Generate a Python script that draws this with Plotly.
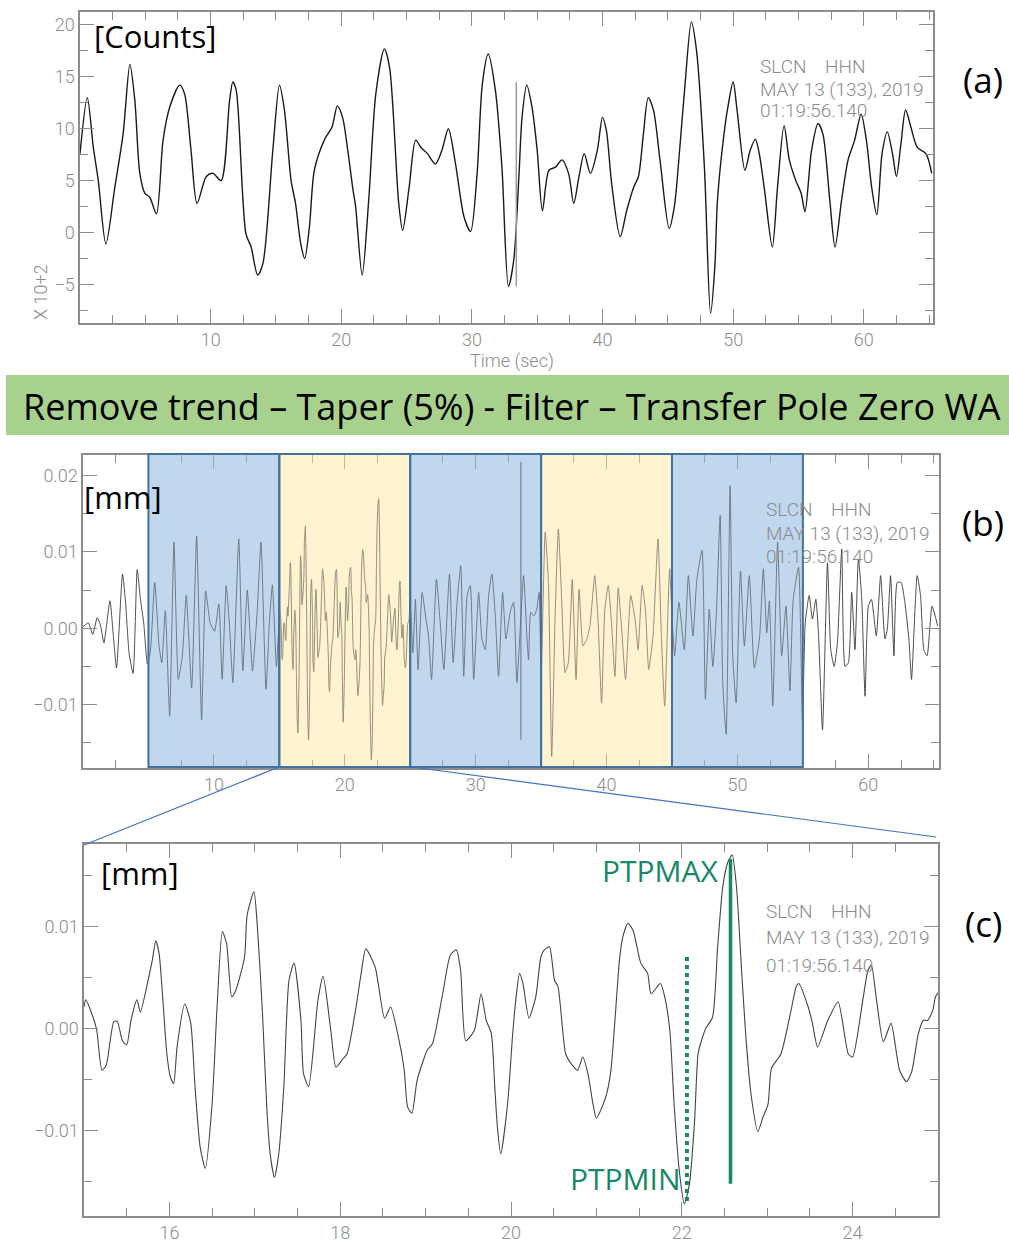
import plotly.graph_objects as go

# ---------------- data ----------------
# Panel (a): raw counts (x 10^2) vs time (s)
a_time = [0.0, 0.56, 1.02, 1.4, 1.98, 2.67, 3.3, 3.82, 4.2, 4.58, 4.96, 5.34, 5.85, 6.36, 6.87, 7.63, 8.0, 8.5,
          8.96, 9.67, 10.18, 10.8, 11.45, 11.7, 11.96, 12.7, 13.1, 13.6, 14.0, 14.76, 15.27, 15.65, 16.16, 16.5,
          16.9, 17.2, 17.56, 17.94, 18.7, 19.3, 19.7, 20.1, 20.5, 20.9, 21.1, 21.6, 22.1, 22.65, 23.3, 23.7, 24.4,
          24.7, 25.2, 25.7, 26.1, 26.6, 27.2, 27.7, 28.2, 28.75, 29.4, 29.9, 30.4, 30.8, 31.25, 31.8, 32.3, 32.8,
          33.2, 33.6, 33.84, 34.2, 34.6, 35.0, 35.4, 35.9, 36.4, 36.9, 37.4, 37.8, 38.2, 38.6, 39.07, 39.6, 40.0,
          40.3, 40.7, 41.35, 41.85, 42.4, 42.75, 43.13, 43.5, 43.9, 44.4, 45.1, 45.5, 45.9, 46.3, 46.8, 47.2, 47.8,
          48.27, 48.6, 48.8, 49.3, 49.6, 50.0, 50.3, 50.9, 51.3, 51.7, 52.0, 52.4, 53.0, 53.4, 53.9, 54.3, 54.8,
          55.2, 55.5, 56.0, 56.5, 56.87, 57.4, 57.8, 58.3, 58.8, 59.3, 59.8, 60.2, 60.6, 61.0, 61.4, 61.8, 62.2,
          62.5, 62.85, 63.2, 63.6, 64.1, 64.76, 65.2]
a_counts = [7.6, 13.0, 8.2, 5.0, -1.1, 4.4, 9.5, 16.2, 12.7, 5.7, 3.8, 3.4, 1.8, 8.9, 12.1, 14.2, 13.4, 7.9,
            2.8, 5.4, 5.7, 5.0, 12.7, 14.5, 13.7, -0.1, -1.4, -4.1, -3.0, 7.9, 14.2, 11.8, 5.0, 2.8,
            -1.1, -2.5, 0.5, 6.0, 8.9, 10.2, 12.2, 11.1, 7.9, 4.1, 2.5, -4.1, 3.1, 13.4, 17.7, 15.9, 2.8,
            0.2, 4.4, 8.9, 8.2, 7.6, 6.6, 7.9, 10.0, 6.6, 1.5, 0.1, 5.7, 14.3, 17.2, 13.7, 6.3, -5.2,
            -2.7, 5.4, 11.1, 14.2, 12.1, 7.9, 2.1, 6.0, 6.3, 7.0, 5.7, 2.8, 5.4, 7.6, 5.7, 7.9, 11.1,
            9.8, 4.7, -0.4, 2.1, 4.4, 5.4, 9.5, 13.0, 11.8, 7.0, 0.4, 2.5, 7.9, 14.0, 20.3, 17.5, 6.3,
            -7.8, -3.3, 3.1, 9.5, 12.1, 14.5, 11.8, 6.0, 7.9, 9.0, 7.6, 4.1, -1.4, 4.4, 10.3, 7.0, 5.0,
            3.8, 2.0, 7.9, 10.5, 9.5, 3.1, -1.4, 3.1, 7.0, 8.9, 11.4, 8.9, 4.4, 1.7, 7.6, 9.7, 7.6,
            5.4, 8.6, 11.8, 10.2, 8.2, 7.6, 5.7]
a_pick_time = [33.4, 33.4]
a_pick_counts = [14.5, -5.2]
a_xticks = [10, 20, 30, 40, 50, 60]

# Panel (c): Wood-Anderson displacement (mm), 15-25 s window
c_time = [15.0, 15.02, 15.11, 15.15, 15.21, 15.26, 15.35, 15.39, 15.45, 15.50, 15.55, 15.62, 15.66, 15.76,
          15.80, 15.84, 15.88, 15.97, 16.01, 16.05, 16.09, 16.18, 16.25, 16.30, 16.36, 16.42, 16.50, 16.56,
          16.62, 16.67, 16.73, 16.78, 16.88, 16.91, 16.99, 17.03, 17.09, 17.14, 17.18, 17.23, 17.28, 17.34,
          17.40, 17.46, 17.54, 17.57, 17.63, 17.74, 17.80, 17.89, 17.95, 18.02, 18.08, 18.18, 18.24, 18.30,
          18.41, 18.52, 18.59, 18.69, 18.75, 18.79, 18.84, 18.90, 19.02, 19.08, 19.20, 19.29, 19.36, 19.41,
          19.47, 19.57, 19.65, 19.71, 19.77, 19.81, 19.84, 19.88, 19.96, 20.02, 20.06, 20.10, 20.14, 20.21,
          20.29, 20.35, 20.39, 20.45, 20.51, 20.55, 20.64, 20.70, 20.78, 20.84, 20.90, 20.96, 21.00, 21.11,
          21.17, 21.27, 21.31, 21.37, 21.43, 21.52, 21.60, 21.64, 21.75, 21.80, 21.86, 21.91, 21.97, 22.03,
          22.09, 22.15, 22.19, 22.23, 22.28, 22.36, 22.42, 22.48, 22.54, 22.59, 22.64, 22.70, 22.75, 22.81,
          22.89, 22.95, 23.01, 23.05, 23.16, 23.28, 23.34, 23.37, 23.48, 23.53, 23.59, 23.71, 23.83, 23.95,
          24.00, 24.12, 24.18, 24.22, 24.28, 24.36, 24.45, 24.55, 24.63, 24.69, 24.77, 24.83, 24.88, 24.94,
          24.97, 25.0]
c_disp = [0.0021, 0.0028, 0.0010, -0.0002, -0.0041, -0.0036, 0.0007, 0.0007, -0.0012, -0.0016, 0.0008, 0.0028,
          0.0016, 0.0051, 0.0067, 0.0086, 0.0073, -0.0025, -0.0047, -0.0054, -0.0018, 0.0024, 0.0005, -0.0057,
          -0.0116, -0.0137, -0.0074, 0.0024, 0.0095, 0.0083, 0.0031, 0.0038, 0.0070, 0.0111, 0.0134, 0.0100,
          0.0015, -0.0077, -0.0123, -0.0146, -0.0123, -0.0057, 0.0047, 0.0064, 0.0008, -0.0044, -0.0057,
          0.0028, 0.0051, -0.0002, -0.0038, -0.0031, -0.0025, 0.0018, 0.0051, 0.0078, 0.0060, 0.0010, 0.0021,
          -0.0012, -0.0041, -0.0077, -0.0083, -0.0051, -0.0021, -0.0015, 0.0034, 0.0072, 0.0077, 0.0057,
          -0.0012, -0.0002, 0.0034, 0.0008, -0.0005, -0.0057, -0.0096, -0.0123, -0.0074, -0.0005, 0.0031,
          0.0054, 0.0044, 0.0010, 0.0031, 0.0070, 0.0077, 0.0080, 0.0047, 0.0041, -0.0025, -0.0034, -0.0041,
          -0.0028, -0.0044, -0.0074, -0.0088, -0.0067, -0.0041, 0.0067, 0.0090, 0.0103, 0.0096, 0.0064, 0.0054,
          0.0034, 0.0044, 0.0031, -0.0002, -0.0074, -0.0139, -0.0172, -0.0152, -0.0090, -0.0025, -0.0012,
          0.0000, 0.0011, 0.0080, 0.0139, 0.0163, 0.0170, 0.0139, 0.0057, -0.0008, -0.0064, -0.0101, -0.0087,
          -0.0074, -0.0039, -0.0025, 0.0018, 0.0041, 0.0044, 0.0021, 0.0005, -0.0018, 0.0008, 0.0026, -0.0025,
          -0.0028, 0.0028, 0.0057, 0.0062, 0.0028, -0.0013, 0.0005, -0.0041, -0.0052, -0.0043, -0.0005, 0.0008,
          0.0008, 0.0018, 0.0031, 0.0035]

# Panel (b): full WA trace outside the 15-25 s window (inside it, the panel (c) samples are used)
b_pre_time = [0.0, 0.41, 0.74, 1.09, 1.35, 1.60, 2.06, 2.31, 2.56, 3.02, 3.25, 3.53, 3.83, 4.14, 4.39, 4.64,
              4.92, 5.15, 5.48, 5.81, 6.02, 6.29, 6.62, 6.95, 7.28, 7.59, 7.89, 8.30, 8.68, 9.06, 9.37, 9.72,
              10.05, 10.38, 10.63, 10.94, 11.19, 11.45, 11.90, 12.21, 12.55, 12.95, 13.3, 13.60, 13.98, 14.25,
              14.47, 14.78]
b_pre_disp = [0.0002, 0.0007, -0.0008, 0.0014, 0.0003, -0.0019, 0.0036, -0.0008, -0.0052, 0.0071, 0.0034,
              -0.0034, -0.0059, 0.0077, 0.0038, 0.0007, -0.0047, -0.0030, 0.0060, -0.0023, -0.0045, 0.0023,
              -0.0115, 0.0113, -0.0067, -0.0036, 0.0043, -0.0078, 0.0121, -0.0120, 0.0049, 0.0007, -0.0004,
              0.0032, -0.0067, 0.0056, 0.0005, -0.0071, 0.0117, -0.0056, 0.0050, -0.0056, 0.0020, 0.0113,
              -0.0080, 0.0010, 0.0057, -0.0050]
b_post_time = [25.2, 25.4, 25.6, 25.91, 26.17, 26.4, 26.63, 27.0, 27.31, 27.57, 28.0, 28.28, 28.58, 28.86,
               29.09, 29.35, 29.59, 29.85, 30.23, 30.48, 30.73, 30.99, 31.24, 31.5, 31.75, 32.06, 32.31, 32.64,
               32.9, 33.15, 33.66, 33.91, 34.04, 34.21, 34.45, 34.67, 34.85, 35.0, 35.31, 35.56,
               35.81, 36.07, 36.32, 36.57, 36.83, 37.08, 37.38, 37.67, 37.9, 38.2, 38.5, 38.73, 39.1, 39.36,
               39.62, 39.87, 40.13, 40.38, 40.64, 40.89, 41.14, 41.45, 41.85, 42.21, 42.41, 42.72, 42.97, 43.22,
               43.55, 43.93, 44.19, 44.44, 44.82, 45.0, 45.2, 45.53, 45.94, 46.25, 46.6, 46.9, 47.3, 47.55,
               47.85, 48.12, 48.38, 48.68, 48.88, 49.14, 49.44, 49.64, 49.9, 50.23, 50.53, 50.91, 51.29, 51.68,
               51.98, 52.24, 52.44, 52.7, 53.07, 53.38, 53.71, 54.01, 54.26, 54.67, 54.97, 55.18, 55.48, 55.73,
               55.99, 56.2, 56.5, 56.88, 57.13, 57.39, 57.64, 57.97, 58.22, 58.48, 58.73, 58.98, 59.24, 59.5,
               59.75, 60.0, 60.24, 60.61, 60.94, 61.27, 61.45, 61.7, 61.96, 62.21, 62.51, 62.79, 63.1, 63.3,
               63.73, 63.99, 64.24, 64.49, 64.87, 65.3]
b_post_disp = [-0.0032, 0.0038, -0.0054, 0.0047, 0.0016, -0.0010, -0.0067, 0.0064, 0.0003, -0.0054, 0.0071,
               -0.0045, 0.0034, 0.0082, -0.0063, 0.0043, 0.0056, -0.0067, 0.0047, -0.0014, -0.0028, 0.0043,
               0.0071, 0.0016, -0.0063, 0.0047, -0.0014, 0.0021, 0.0034, -0.0071, 0.0069,
               -0.0010, -0.0041, 0.0021, 0.0016, 0.0025, 0.0047, -0.0067, 0.0126, 0.0060, -0.0168, 0.0016,
               0.0130, 0.0038, -0.0058, -0.0045, 0.0064, -0.0067, 0.0051, -0.0023, -0.0014, 0.0003, 0.0069,
               0.0007, -0.0098, 0.0025, 0.0056, 0.0007, -0.0063, 0.0053, 0.0003, -0.0067, 0.0043, 0.0007,
               -0.0028, 0.0056, 0.0025, -0.0054, -0.0010, 0.0117, -0.0010, -0.0102, 0.0078, 0.0016, -0.0036,
               0.0034, -0.0028, 0.0069, -0.0010, 0.0064, 0.0102, -0.0093, 0.0025, -0.0050, 0.0016, 0.0148,
               -0.0071, -0.0139, 0.0187, -0.0036, -0.0098, 0.0075, -0.0023, 0.0069, -0.0052, -0.0014, 0.0078,
               -0.0006, 0.0036, -0.0102, 0.0113, -0.0036, 0.0029, -0.0082, 0.0038, 0.0080, -0.0124, 0.0007,
               0.0043, 0.0012, 0.0038, -0.0010, -0.0133, 0.0086, -0.0028, -0.0050, -0.0019, 0.0104, -0.0050,
               -0.0045, 0.0047, -0.0028, 0.0091, 0.0038, -0.0089, 0.0029, 0.0038, -0.0010, 0.0069, -0.0014,
               -0.0001, 0.0069, -0.0036, 0.0060, 0.0060, 0.0034, -0.0014, -0.0067, 0.0069, 0.0043, -0.0028,
               -0.0036, 0.0029, 0.0003]
b_spike_time = [33.46, 33.46]
b_spike_disp = [0.0218, -0.0146]
b_xticks = [10, 20, 30, 40, 50, 60]

# Analysis windows in panel (b)
win_start = [5, 15, 25, 35, 45]
win_end = [15, 25, 35, 45, 55]
win_kind = ["blue", "yellow", "blue", "yellow", "blue"]

# Peak-to-peak markers in panel (c)
ptpmin_time = [22.06, 22.06]
ptpmin_disp = [0.0070, -0.0173]
ptpmax_time = [22.57, 22.57]
ptpmax_disp = [0.0166, -0.0152]

header_lines = ["SLCN&nbsp;&nbsp;&nbsp;&nbsp;HHN", "MAY 13 (133), 2019", "01:19:56.140"]

# ---------------- figure ----------------
W, H = 1009, 1243
def PX(x):
    return x / W
def PY(y):
    return 1 - y / H

GRAY = "#8c8c8c"
NARROW = "Roboto, Liberation Sans, sans-serif"
SANS = "Open Sans, Noto Sans, sans-serif"
GREEN = "#17876a"

b_time = b_pre_time + c_time + b_post_time
b_disp = b_pre_disp + c_disp + b_post_disp

fig = go.Figure()
fig.add_trace(go.Scatter(x=a_time, y=a_counts, mode="lines", xaxis="x", yaxis="y",
                         line=dict(color="#1a1a1a", width=1.4, shape="spline", smoothing=0.8)))
fig.add_trace(go.Scatter(x=a_pick_time, y=a_pick_counts, mode="lines", xaxis="x", yaxis="y",
                         line=dict(color="#9a9a9a", width=1.5)))
fig.add_trace(go.Scatter(x=b_time, y=b_disp, mode="lines", xaxis="x2", yaxis="y2",
                         line=dict(color="#3a3a3a", width=0.9, shape="spline", smoothing=0.5)))
fig.add_trace(go.Scatter(x=b_spike_time, y=b_spike_disp, mode="lines", xaxis="x2", yaxis="y2",
                         line=dict(color="#3a3a3a", width=1.0)))
fig.add_trace(go.Scatter(x=c_time, y=c_disp, mode="lines", xaxis="x3", yaxis="y3",
                         line=dict(color="#444444", width=1.1, shape="spline", smoothing=0.6)))
fig.add_trace(go.Scatter(x=ptpmin_time, y=ptpmin_disp, mode="lines", xaxis="x3", yaxis="y3",
                         line=dict(color=GREEN, width=4, dash="dot")))
fig.add_trace(go.Scatter(x=ptpmax_time, y=ptpmax_disp, mode="lines", xaxis="x3", yaxis="y3",
                         line=dict(color=GREEN, width=3.5)))

def minor(dt):
    return dict(ticks="inside", ticklen=8, tickwidth=1.2, tickcolor=GRAY, dtick=dt, showgrid=False)

def axstyle(**kw):
    d = dict(showline=True, linecolor=GRAY, linewidth=1.5, mirror="allticks", ticks="inside",
             ticklen=14, tickwidth=1.2, tickcolor=GRAY, showgrid=False, zeroline=False,
             tickfont=dict(family=NARROW, size=18, color=GRAY, weight=300))
    d.update(kw)
    return d

fig.update_layout(
    width=W, height=H, margin=dict(l=0, r=0, t=0, b=0),
    paper_bgcolor="white", plot_bgcolor="white", showlegend=False,
    xaxis=axstyle(domain=[PX(80), PX(933)], range=[0, 65.3], tickmode="array", tickvals=a_xticks,
                  anchor="y", minor=minor(2.5)),
    yaxis=axstyle(domain=[PY(323), PY(12)], range=[-8.72, 21.25], dtick=5, tick0=0, anchor="x",
                  minor=minor(2.5)),
    xaxis2=axstyle(domain=[PX(83), PX(939)], range=[0, 65.4], tickmode="array", tickvals=b_xticks,
                   anchor="y2", minor=minor(2.5)),
    yaxis2=axstyle(domain=[PY(768), PY(455)], range=[-0.0183, 0.0227], dtick=0.01, tick0=0, tickformat=".2f",
                   anchor="x2", minor=minor(0.005)),
    xaxis3=axstyle(domain=[PX(84), PX(938)], range=[15, 25], dtick=2, tick0=0, anchor="y3",
                   minor=minor(0.5)),
    yaxis3=axstyle(domain=[PY(1216), PY(844)], range=[-0.01837, 0.01807], dtick=0.01, tick0=0, tickformat=".2f",
                   anchor="x3", minor=minor(0.005)),
)

shapes = []
# green processing band
shapes.append(dict(type="rect", xref="paper", yref="paper", x0=PX(6), x1=PX(1009), y0=PY(435), y1=PY(375),
                   fillcolor="#a9d18e", line=dict(width=0), layer="below"))
# analysis windows: opaque fill under the trace, light tint + outline above it
fills = {"blue": "#c3d8ee", "yellow": "#fff3d2"}
tints = {"blue": "rgba(189,215,238,0.35)", "yellow": "rgba(255,242,204,0.4)"}
for s, e, k in zip(win_start, win_end, win_kind):
    shapes.append(dict(type="rect", xref="x2", yref="paper", x0=s, x1=e, y0=PY(767), y1=PY(454),
                       fillcolor=fills[k], line=dict(width=0), layer="below"))
for s, e, k in zip(win_start, win_end, win_kind):
    shapes.append(dict(type="rect", xref="x2", yref="paper", x0=s, x1=e, y0=PY(767), y1=PY(454),
                       fillcolor=tints[k], line=dict(color="#41719c", width=2), layer="above"))
# zoom connector lines
shapes.append(dict(type="line", xref="paper", yref="paper", x0=PX(279), y0=PY(767), x1=PX(84), y1=PY(845),
                   line=dict(color="#4472c4", width=1.2)))
shapes.append(dict(type="line", xref="paper", yref="paper", x0=PX(412), y0=PY(767), x1=PX(936), y1=PY(837),
                   line=dict(color="#4472c4", width=1.2)))
fig.update_layout(shapes=shapes)

ann = []
def text(x, y, t, size, color="black", family=SANS, xanchor="left", angle=0, weight=None):
    f = dict(family=family, size=size, color=color)
    if weight:
        f["weight"] = weight
    ann.append(dict(x=PX(x), y=PY(y), xref="paper", yref="paper", text=t, showarrow=False,
                    xanchor=xanchor, yanchor="middle", textangle=angle, borderpad=0,
                    font=f))

text(93, 36, "[Counts]", 31)
text(83, 497, "[mm]", 31)
text(100, 873, "[mm]", 31)
text(983, 80, "(a)", 35, xanchor="center")
text(983, 522, "(b)", 35, xanchor="center")
text(983, 923, "(c)", 35, xanchor="center")
text(512, 406, "Remove trend \u2013 Taper (5%) - Filter \u2013 Transfer Pole Zero WA", 36, xanchor="center")
text(720, 870, "PTPMAX", 30, color=GREEN, xanchor="right")
text(682, 1178, "PTPMIN", 30, color=GREEN, xanchor="right")
text(512, 361, "Time (sec)", 18, color=GRAY, family=NARROW, xanchor="center", weight=300)
text(40, 292, "X 10+2", 18, color=GRAY, family=NARROW, xanchor="center", angle=-90, weight=300)
for (x0, ys) in [(759, [67, 89, 110]), (765, [510, 533, 556]), (765, [911, 938, 965])]:
    for yy, line in zip(ys, header_lines):
        text(x0, yy, line, 19, color=GRAY, family=NARROW, weight=300)
fig.update_layout(annotations=ann)

fig.write_html("out.html")
